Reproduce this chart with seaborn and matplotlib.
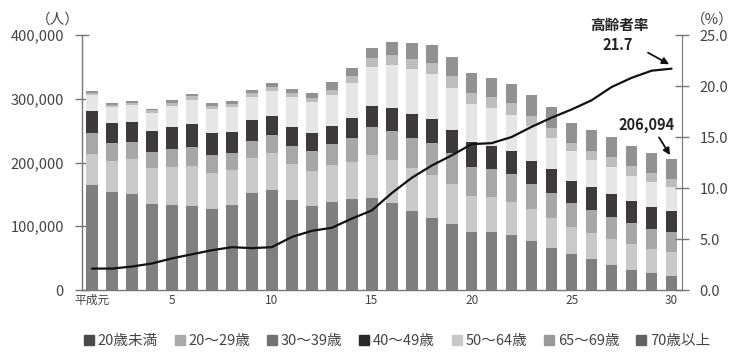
import matplotlib
matplotlib.use("Agg")
import matplotlib.pyplot as plt
import seaborn as sns
import numpy as np
import pandas as pd
from matplotlib.lines import Line2D

# 年次（平成元年〜30年）
years = list(range(1, 31))
year_labels = ["平成元", "5", "10", "15", "20", "25", "30"]
year_label_years = [1, 5, 10, 15, 20, 25, 30]

# 年齢層別 検挙人員（千人）
age_groups = ["20歳未満", "20～29歳", "30～39歳", "40～49歳", "50～64歳", "65～69歳", "70歳以上"]
under20 = [165.2, 153.7, 150.1, 134.4, 133.3, 131.8, 126.5, 133.3, 152.7, 157.4,
           141.2, 132.3, 138.6, 142.2, 144.8, 136.0, 123.9, 113.5, 103.0, 91.0,
           91.0, 85.8, 77.4, 65.4, 56.0, 48.6, 39.2, 31.4, 26.2, 22.4]
age20s = [48.1, 48.7, 54.9, 56.5, 59.7, 63.2, 57.6, 54.9, 54.4, 57.0,
          56.5, 54.9, 57.0, 59.1, 67.5, 68.5, 68.0, 66.9, 62.8, 56.5,
          55.4, 52.8, 49.1, 47.0, 43.3, 41.3, 40.8, 40.3, 38.1, 37.7]
age30s = [32.5, 28.7, 26.6, 26.1, 27.7, 28.8, 27.7, 27.2, 26.6, 28.2,
          28.2, 31.4, 32.9, 36.6, 42.9, 45.5, 47.1, 49.7, 48.6, 44.9,
          43.4, 42.8, 39.8, 39.2, 36.7, 35.6, 35.0, 32.9, 31.4, 30.9]
age40s = [35.0, 31.4, 31.9, 32.4, 35.5, 36.1, 35.0, 33.0, 32.5, 30.4,
          30.3, 28.2, 29.3, 31.4, 34.0, 35.5, 36.6, 37.6, 36.6, 39.2,
          36.6, 37.2, 36.6, 37.7, 35.5, 35.6, 35.6, 35.5, 35.0, 33.4]
age50_64 = [25.1, 25.1, 26.2, 28.3, 32.4, 38.1, 37.7, 38.2, 37.1, 39.7,
            46.0, 47.6, 47.6, 54.9, 61.1, 68.0, 70.6, 70.6, 66.4, 60.2,
            59.1, 56.4, 53.8, 49.7, 45.8, 42.8, 41.9, 39.2, 38.2, 36.7]
age65_69 = [3.1, 2.6, 3.6, 4.1, 5.3, 6.3, 4.1, 5.2, 5.2, 5.2,
            6.8, 7.3, 8.3, 11.5, 13.1, 15.1, 15.7, 17.3, 18.3, 16.7,
            16.7, 17.8, 16.8, 15.7, 12.8, 14.1, 15.7, 15.2, 14.1, 13.0]
age70plus = [3.2, 2.6, 2.7, 2.7, 3.6, 3.7, 4.2, 4.2, 4.7, 6.3,
             5.8, 7.9, 12.1, 12.0, 15.7, 20.4, 25.0, 28.7, 30.3, 31.4,
             30.4, 30.4, 32.4, 32.4, 32.3, 33.0, 31.3, 31.4, 31.4, 31.4]

# 高齢者率（%）
elderly_rate = [2.1, 2.1, 2.3, 2.6, 3.1, 3.5, 3.9, 4.2, 4.1, 4.2,
                5.2, 5.8, 6.1, 7.0, 7.8, 9.5, 11.0, 12.2, 13.2, 14.3,
                14.4, 15.0, 16.0, 16.9, 17.7, 18.6, 19.9, 20.8, 21.5, 21.7]

bar_colors = ["#7f7f7f", "#c9c9c9", "#a7a7a7", "#3e3a39", "#e6e6e6", "#bdbdbd", "#929292"]
legend_colors = ["#4a4a4a", "#a9a9a9", "#727272", "#2b2b2b", "#c9c9c9", "#9a9a9a", "#626262"]

series = [under20, age20s, age30s, age40s, age50_64, age65_69, age70plus]
df = pd.DataFrame({g: np.array(v) * 1000 for g, v in zip(age_groups, series)})
df["year"] = [str(y) for y in years]
cum = df[age_groups].cumsum(axis=1)

sns.set_style("white")
plt.rcParams["font.family"] = ["Noto Sans CJK JP", "DejaVu Sans"]
text_color = "#444444"
axis_color = "#777777"

fig = plt.figure(figsize=(7.4, 3.59), dpi=100)
ax = fig.add_axes([0.1108, 0.1922, 0.8102, 0.7103])

# 積み上げ棒：上の層から順に累積値を重ね描き
for g, c in zip(reversed(age_groups), reversed(bar_colors)):
    sns.barplot(x=df["year"], y=cum[g], color=c, width=0.58, saturation=1,
                edgecolor="none", linewidth=0, ax=ax, order=df["year"])

ax.set_xlim(-0.5, 29.5)
ax.set_ylim(0, 400000)
ax.set_yticks(range(0, 400001, 100000))
ax.set_yticklabels([f"{v:,}" for v in range(0, 400001, 100000)])
ax.set_xticks([y - 1 for y in year_label_years])
ax.set_xticklabels(year_labels)
ax.set_xlabel("")
ax.set_ylabel("")
ax.tick_params(axis="y", direction="inout", length=10, width=1, color=axis_color,
               labelsize=10.5, labelcolor=text_color, pad=8)
ax.tick_params(axis="x", length=0, labelsize=8.5, labelcolor=text_color, pad=3)
for s in ["top", "right"]:
    ax.spines[s].set_visible(False)
for s in ["left", "bottom"]:
    ax.spines[s].set_color(axis_color)
    ax.spines[s].set_linewidth(1)

ax2 = ax.twinx()
sns.lineplot(x=np.arange(len(years)), y=elderly_rate, color="#111111",
             linewidth=1.6, ax=ax2)
ax2.set_ylim(0, 25)
ax2.set_yticks(np.arange(0, 25.1, 5))
ax2.set_yticklabels([f"{v:.1f}" for v in np.arange(0, 25.1, 5)])
ax2.tick_params(axis="y", direction="inout", length=10, width=1, color=axis_color,
                labelsize=10.5, labelcolor=text_color, pad=8)
for s in ["top", "left", "bottom"]:
    ax2.spines[s].set_visible(False)
ax2.spines["right"].set_color(axis_color)
ax2.set_ylabel("")

fig.text(0.078, 0.945, "（人）", ha="center", va="center", fontsize=10.5, color=text_color)
fig.text(0.962, 0.945, "（%）", ha="center", va="center", fontsize=10.5, color=text_color)

# 注記
ax2.annotate("", xy=(29, elderly_rate[-1] + 0.3), xytext=(27.7, 23.4),
             arrowprops=dict(arrowstyle="-|>", color="#111111", lw=1.3,
                             mutation_scale=10))
fig.text(0.837, 0.93, "高齢者率", ha="center", va="center", fontsize=10.5,
         fontweight="bold", color="#222222")
fig.text(0.835, 0.875, f"{elderly_rate[-1]}", ha="center", va="center", fontsize=10.5,
         fontweight="bold", color="#222222")
ax.annotate("", xy=(29, 208000), xytext=(28.3, 243000),
            arrowprops=dict(arrowstyle="-|>", color="#111111", lw=1.3,
                            mutation_scale=10))
fig.text(0.874, 0.652, "206,094", ha="center", va="center", fontsize=10.5,
         fontweight="bold", color="#222222")

handles = [Line2D([0], [0], marker="s", linestyle="none", markersize=7,
                  markerfacecolor=c, markeredgecolor=c) for c in legend_colors]
fig.legend(handles, age_groups, loc="center", bbox_to_anchor=(0.535, 0.05),
           ncol=7, frameon=False, fontsize=10.5, handletextpad=0.1,
           columnspacing=1.0, labelcolor=text_color, handlelength=1.0)

fig.savefig("out.png", dpi=100)
